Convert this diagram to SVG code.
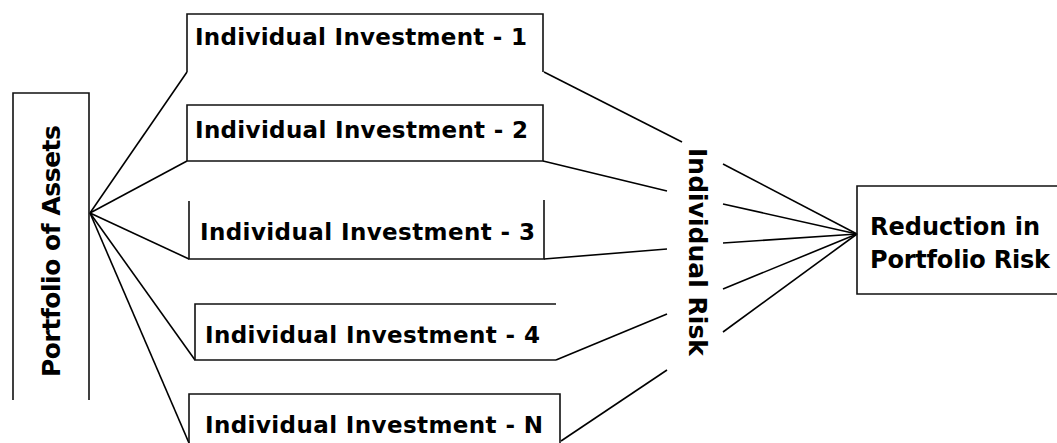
<svg xmlns="http://www.w3.org/2000/svg" width="1057" height="443" viewBox="0 0 1057 443">
  <style>
    .box { fill: none; stroke: #111; stroke-width: 1.6; }
    .con line { stroke: #000; stroke-width: 1.6; }
    .t { font-family: "DejaVu Sans", "Liberation Sans", Arial, sans-serif; font-weight: bold; fill: #000; }
    .inv { font-size: 23px; }
  </style>
  <rect width="1057" height="443" fill="#fff"/>
  <g id="connectors" class="con">
    <line x1="90" y1="213" x2="187" y2="72"/>
    <line x1="90" y1="213" x2="187" y2="161"/>
    <line x1="90" y1="213" x2="189" y2="259"/>
    <line x1="90" y1="213" x2="195" y2="360"/>
    <line x1="90" y1="213" x2="189" y2="443"/>
    <line x1="544" y1="72" x2="682" y2="142"/>
    <line x1="543" y1="161" x2="667" y2="191"/>
    <line x1="544" y1="259" x2="667" y2="249"/>
    <line x1="556" y1="360" x2="667" y2="314"/>
    <line x1="561" y1="441" x2="667" y2="370"/>
    <line x1="723" y1="164" x2="857" y2="234"/>
    <line x1="723" y1="204" x2="857" y2="234"/>
    <line x1="723" y1="243" x2="857" y2="234"/>
    <line x1="723" y1="289" x2="857" y2="234"/>
    <line x1="723" y1="332" x2="857" y2="234"/>
  </g>
  <g id="portfolio">
    <path class="box" d="M13,400 V93 H89 V400"/>
    <text class="t" font-size="25" transform="translate(60,251) rotate(-90)" text-anchor="middle" textLength="252" lengthAdjust="spacing">Portfolio of Assets</text>
  </g>
  <g id="inv1">
    <path class="box" d="M187,72 V14 H543 V72"/>
    <text class="t inv" x="195" y="45" textLength="332" lengthAdjust="spacing">Individual Investment - 1</text>
  </g>
  <g id="inv2">
    <path class="box" d="M187,105 H543 V161 H187 Z"/>
    <text class="t inv" x="195" y="138" textLength="333" lengthAdjust="spacing">Individual Investment - 2</text>
  </g>
  <g id="inv3">
    <path class="box" d="M189,201 V259 H544 V200"/>
    <text class="t inv" x="200" y="240" textLength="335" lengthAdjust="spacing">Individual Investment - 3</text>
  </g>
  <g id="inv4">
    <path class="box" d="M556,304 H195 V360 H556"/>
    <text class="t inv" x="205" y="343" textLength="335" lengthAdjust="spacing">Individual Investment - 4</text>
  </g>
  <g id="invN">
    <path class="box" d="M189,445 V394 H560 V445"/>
    <text class="t inv" x="205" y="433" textLength="338" lengthAdjust="spacing">Individual Investment - N</text>
  </g>
  <g id="risk">
    <text class="t" font-size="25" transform="translate(689,252) rotate(90)" text-anchor="middle" textLength="208" lengthAdjust="spacing">Individual Risk</text>
  </g>
  <g id="reduction">
    <path class="box" d="M1060,186 H857 V294 H1060"/>
    <text class="t" font-size="24" x="870" y="235" textLength="170" lengthAdjust="spacing">Reduction in</text>
    <text class="t" font-size="24" x="870" y="268" textLength="180" lengthAdjust="spacing">Portfolio Risk</text>
  </g>
</svg>
